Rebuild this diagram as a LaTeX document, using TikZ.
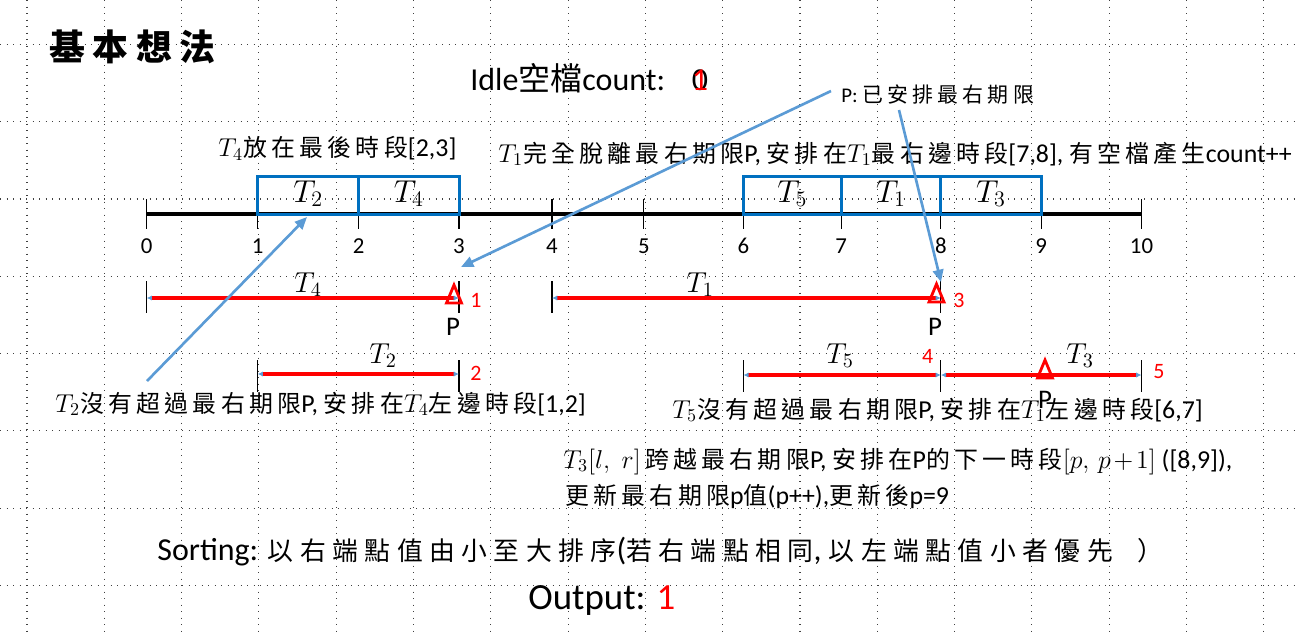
\documentclass[tikz,border=0pt]{standalone}
\usepackage{fix-cm}
\usepackage[no-math]{fontspec}
\setmainfont{Carlito}
\newfontfamily\zhS[LetterSpace=18]{Noto Sans CJK TC}
\newfontfamily\zhP[LetterSpace=20]{Noto Sans CJK TC}
\newfontfamily\zhN{Noto Sans CJK TC}
\newfontfamily\zhM[LetterSpace=25]{Noto Sans CJK TC}
\newfontfamily\zhT[LetterSpace=21]{Noto Sans CJK TC}
\usetikzlibrary{arrows.meta,fit}
\definecolor{boxblue}{HTML}{0070C0}
\definecolor{callblue}{HTML}{5B9BD5}
\newcommand\zc[1]{{\fontsize{13.6pt}{16pt}\selectfont\zhS #1}}
\newcommand\zsort[1]{{\fontsize{14.7pt}{17pt}\selectfont\zhM #1}}
\newcommand\fsText{\fontsize{14.7pt}{17pt}\selectfont}
\newcommand\fsSmall{\fontsize{11.9pt}{14pt}\selectfont}
\newcommand\fsIdle{\fontsize{18.2pt}{21pt}\selectfont}
\newcommand\fsTitle{\fontsize{20.4pt}{24pt}\selectfont}
\newcommand\fsOut{\fontsize{21pt}{24pt}\selectfont}
\newcommand\fsTick{\fontsize{13pt}{15pt}\selectfont}
\newcommand\fsBoxT{\fontsize{18pt}{20pt}\selectfont}
\newcommand\fsIntT{\fontsize{16.4pt}{19pt}\selectfont}
\newcommand\fsNum{\fontsize{12.5pt}{14pt}\selectfont}
\newcommand\fsP{\fontsize{15.3pt}{18pt}\selectfont}
\begin{document}
\begin{tikzpicture}[x=0.02cm,y=-0.02cm,
  txt/.style={anchor=base west,inner sep=0pt},
  gridline/.style={black!75,line width=0.6pt,dash pattern=on 0.6pt off 3.1pt},
  axisline/.style={black,line width=1.8pt},
  tickline/.style={black,line width=0.6pt},
  ticklbl/.style={anchor=base,inner sep=0pt,font=\fsTick},
  tbox/.style={draw=boxblue,line width=1.7pt,inner sep=0pt},
  boxlbl/.style={anchor=base,inner sep=0pt,font=\fsBoxT},
  ival/.style={red,line width=2.3pt,{Latex[length=3pt,width=3pt,color=callblue]}-{Latex[length=3pt,width=3pt,color=callblue]}},
  endtick/.style={black,line width=0.6pt},
  intlbl/.style={anchor=base,inner sep=0pt,font=\fsIntT},
  redtri/.style={red,line width=1.6pt,line join=miter},
  plbl/.style={anchor=base,inner sep=0pt,font=\fsP},
  rednum/.style={anchor=base west,inner sep=0pt,text=red,font=\fsNum},
  callout/.style={callblue,line width=1.5pt,-{Triangle[length=7pt,width=6pt]}}]
\useasboundingbox (0,0) rectangle (1297,637);
% background dotted grid
\foreach \k in {0,...,7} \draw[gridline] (0,{44.4+77.3*\k}) -- (1297,{44.4+77.3*\k});
\foreach \k in {0,...,16} \draw[gridline] ({27+77.3*\k},0) -- ({27+77.3*\k},637);
% title and headers
\node[txt] (title) at (49,60) {\fsTitle\zhT\bfseries 基本想法};
\node[txt] (idle) at (470,90) {\fsIdle Idle{\zhN 空檔}count:};
\node[anchor=base,inner sep=0pt,font=\fsIdle] (cnt0) at (700,90) {0};
\node[anchor=base,inner sep=0pt,font=\fsIdle,text=red] (cnt1) at (700,90) {1};
\node[txt] (plabel) at (841,102) {\fsSmall P: {\zhP 已安排最右期限}};
\node[txt] (t4txt) at (218,156.5) {\fsText $T_4$\zc{放在最後時段}[2,3]};
\node[txt] (t1txt) at (498,162) {\fsText $T_1$\zc{完全脫離最右期限}P, \zc{安排在}$T_1$\zc{最右邊時段}[7,8], \zc{有空檔產生}count++};
% timeline
\foreach \i/\x in {0/146.7,1/257.7,2/358.7,3/459,4/552,5/643.8,6/743.4,7/841.2,8/940.9,9/1041.2,10/1141.5}{
  \coordinate (k\i) at (\x,214);
  \draw[tickline] (\x,199) -- (\x,229);
  \node[ticklbl] (n\i) at (\x,253) {\i};
}
\draw[axisline] (k0) -- (k10);
% placed boxes
\node[tbox,fit={(257.7,176) (358.7,214)}] (B2) {};
\node[tbox,fit={(358.7,176) (459,214)}] (B4) {};
\node[tbox,fit={(743.4,176) (841.2,214)}] (B5) {};
\node[tbox,fit={(841.2,176) (940.9,214)}] (B1) {};
\node[tbox,fit={(940.9,176) (1041.2,214)}] (B3) {};
\node[boxlbl] (lB2) at (308.2,202) {$T_2$};
\node[boxlbl] (lB4) at (408.9,202) {$T_4$};
\node[boxlbl] (lB5) at (792.3,202) {$T_5$};
\node[boxlbl] (lB1) at (891,202) {$T_1$};
\node[boxlbl] (lB3) at (991,202) {$T_3$};
% intervals row 1
\coordinate (a4l) at (146.7,298); \coordinate (a4r) at (459,298);
\coordinate (a1l) at (552,298); \coordinate (a1r) at (940.9,298);
\foreach \x in {146.7,459,552,940.9} \draw[endtick] (\x,281) -- (\x,313);
\draw[ival] (a4l) -- (a4r);
\draw[ival] (a1l) -- (a1r);
\node[intlbl] (lT4) at (308,292) {$T_4$};
\node[intlbl] (lT1) at (700,292) {$T_1$};
% intervals row 2
\coordinate (a2l) at (257.7,374); \coordinate (a2r) at (459,374);
\coordinate (a5l) at (743.4,375); \coordinate (a5r) at (940.9,375);
\coordinate (a3l) at (940.9,375); \coordinate (a3r) at (1141.5,375);
\foreach \x in {257.7,459,743.4,940.9,1141.5} \draw[endtick] (\x,360) -- (\x,392);
\draw[ival] (a2l) -- (a2r);
\draw[ival] (a5l) -- (a5r);
\draw[ival] (a3l) -- (a3r);
\node[intlbl] (lT2) at (383,363) {$T_2$};
\node[intlbl] (lT5) at (840,363) {$T_5$};
\node[intlbl] (lT3) at (1080,363) {$T_3$};
% deadline markers
\draw[redtri,shift={(454,294)}] (-7.5,9) -- (7.5,9) -- (0,-9) -- cycle;
\draw[redtri,shift={(936.5,293)}] (-7.5,9) -- (7.5,9) -- (0,-9) -- cycle;
\draw[redtri,shift={(1045,369)}] (-7.5,9) -- (7.5,9) -- (0,-9) -- cycle;
\node[plbl] (P1) at (453,335) {P};
\node[plbl] (P2) at (935,335) {P};
\node[plbl] (P3) at (1045,408) {P};
\node[rednum] (r1) at (470,307) {1};
\node[rednum] (r3) at (953,307) {3};
\node[rednum] (r2) at (470,380) {2};
\node[rednum] (r4) at (921.7,363) {4};
\node[rednum] (r5) at (1153,378) {5};
% lower texts
\node[txt] (t2txt) at (55,412) {\fsText $T_2$\zc{沒有超過最右期限}P, \zc{安排在}$T_4$\zc{左邊時段}[1,2]};
\node[txt] (t5txt) at (672,418) {\fsText $T_5$\zc{沒有超過最右期限}P, \zc{安排在}$T_1$\zc{左邊時段}[6,7]};
\node[txt] (t3txt) at (563,468) {\fsText $T_3[l,\;r]$\,\zc{跨越最右期限}P, \zc{安排在}P\zc{的下一時段}{\medmuskip=2mu $[p,\,p+1]$} ([8,9]),};
\node[txt] (updtxt) at (565,504) {\fsText \zc{更新最右期限}p\zc{值}(p++),\zc{更新後}p=9};
\node[txt] (sorttxt) at (157,560) {\fsIdle Sorting: \zsort{以右端點值由小至大排序}(\zsort{若右端點相同}, \zsort{以左端點值小者優先\kern14pt）}};
\node[txt] (outtxt) at (528,609) {\fsOut Output: \textcolor{red}{1}};
% callouts
\coordinate (c1) at (831,91); \coordinate (c1e) at (461,267);
\coordinate (c2) at (899,110); \coordinate (c2e) at (941,282);
\coordinate (c3) at (147,381); \coordinate (c3e) at (307,217);
\draw[callout] (c1) -- (c1e);
\draw[callout] (c2) -- (c2e);
\draw[callout] (c3) -- (c3e);
\end{tikzpicture}
\end{document}
